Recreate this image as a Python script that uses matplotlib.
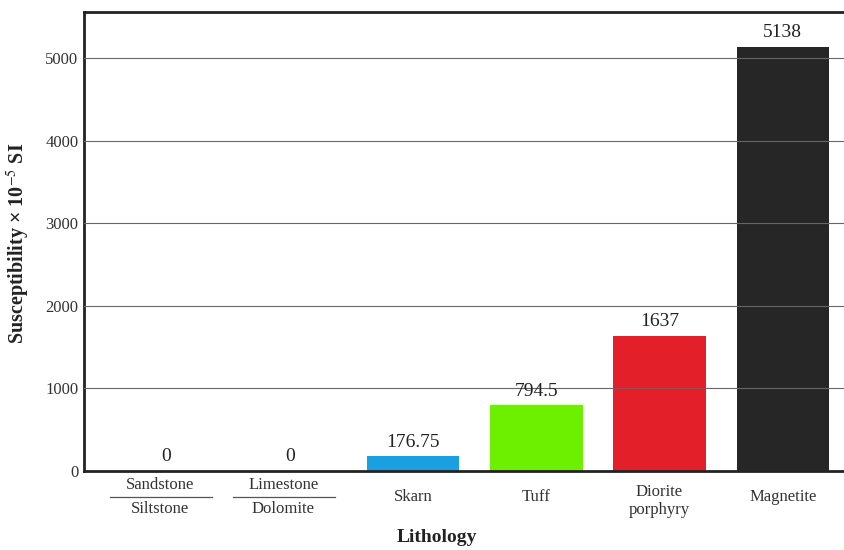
import numpy as np
import matplotlib.pyplot as plt
from matplotlib.transforms import blended_transform_factory

plt.rcParams['font.family'] = ['Liberation Serif', 'DejaVu Serif']
plt.rcParams['mathtext.fontset'] = 'stix'

lithology = ["Sandstone\nSiltstone", "Limestone\nDolomite", "Skarn", "Tuff",
             "Diorite\nporphyry", "Magnetite"]
susceptibility = [0, 0, 176.75, 794.5, 1637, 5138]
value_labels = ["0", "0", "176.75", "794.5", "1637", "5138"]
colors = ["#ffffff", "#ffffff", "#1a9fe0", "#6def00", "#e3202a", "#262626"]

fig = plt.figure(figsize=(8.45, 5.5), dpi=100)
ax = fig.add_axes([0.0994, 0.1436, 0.905, 0.835])

x = np.arange(len(lithology))
bars = ax.bar(x, susceptibility, width=0.75, color=colors, zorder=1)
for b, c in zip(bars, colors):
    if c == "#ffffff":
        b.set_visible(False)

for xi, v, lab in zip(x, susceptibility, value_labels):
    ax.annotate(lab, (xi, v), xytext=(0, 4), textcoords="offset points",
                ha="center", va="bottom", fontsize=14, color="#222222")

ax.set_xlim(-0.668, 5.534)
ax.set_ylim(0, 5564)
ax.set_yticks([0, 1000, 2000, 3000, 4000, 5000])
ax.yaxis.grid(True, color="#666666", linewidth=0.8)
ax.set_axisbelow(False)
ax.tick_params(axis="y", labelsize=12, labelcolor="#333333", length=0, pad=4)
ax.set_xticks([])
for s in ["left", "bottom", "top"]:
    ax.spines[s].set_linewidth(2)
    ax.spines[s].set_color("#222222")
ax.spines["right"].set_visible(False)

# custom category labels under the axis
tr = blended_transform_factory(ax.transData, ax.transAxes)
px = 1.0 / (0.835 * 550)
for xi, name in zip(x, lithology):
    if xi < 2:
        top, bottom = name.split("\n")
        ax.text(xi - 0.05, -14 * px, top, transform=tr, ha="center", va="center",
                fontsize=12, color="#333333")
        ax.text(xi - 0.05, -38 * px, bottom, transform=tr, ha="center", va="center",
                fontsize=12, color="#333333")
        ax.plot([xi - 0.46, xi + 0.37], [-26 * px, -26 * px], transform=tr,
                color="#555555", linewidth=0.9, clip_on=False)
    elif "\n" in name:
        ax.text(xi, -30 * px, name, transform=tr, ha="center", va="center",
                fontsize=12, color="#333333", linespacing=1.1)
    else:
        ax.text(xi, -26 * px, name, transform=tr, ha="center", va="center",
                fontsize=12, color="#333333")

fig.text(437 / 845, 1 - 538 / 550, "Lithology", ha="center", va="center",
         fontsize=14, fontweight="bold", color="#222222")
fig.text(18 / 845, 1 - 243 / 550, "Susceptibility \u00d7 10$^{-5}$ SI",
         rotation=90, ha="center", va="center", fontsize=14.5,
         fontweight="bold", color="#222222")

fig.savefig("out.png", dpi=100)
